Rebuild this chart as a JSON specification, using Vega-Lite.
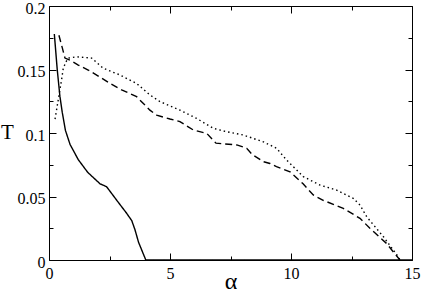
{
  "$schema": "https://vega.github.io/schema/vega-lite/v6.json",
  "width": 363,
  "height": 254,
  "autosize": {"type": "none"},
  "padding": {"left": 49, "top": 6, "right": 9, "bottom": 32},
  "background": "white",
  "config": {
    "view": {"stroke": null},
    "axis": {
      "grid": false,
      "labelFont": "Liberation Serif",
      "labelFontSize": 16,
      "labelColor": "black",
      "titleFont": "Liberation Serif",
      "titleColor": "black",
      "titleFontWeight": "normal",
      "domainColor": "black",
      "domainWidth": 1,
      "tickColor": "black",
      "tickWidth": 1,
      "labelFlush": false,
      "labelOverlap": false
    }
  },
  "data": {
    "values": [
      {"a": 0.22, "T": 0.178, "s": "solid"},
      {"a": 0.34, "T": 0.15, "s": "solid"},
      {"a": 0.45, "T": 0.129, "s": "solid"},
      {"a": 0.55, "T": 0.116, "s": "solid"},
      {"a": 0.68, "T": 0.102, "s": "solid"},
      {"a": 0.87, "T": 0.091, "s": "solid"},
      {"a": 1.21, "T": 0.079, "s": "solid"},
      {"a": 1.6, "T": 0.069, "s": "solid"},
      {"a": 2.11, "T": 0.06, "s": "solid"},
      {"a": 2.38, "T": 0.0577, "s": "solid"},
      {"a": 2.8, "T": 0.047, "s": "solid"},
      {"a": 3.2, "T": 0.037, "s": "solid"},
      {"a": 3.42, "T": 0.031, "s": "solid"},
      {"a": 3.55, "T": 0.024, "s": "solid"},
      {"a": 3.7, "T": 0.014, "s": "solid"},
      {"a": 4.0, "T": 0.0, "s": "solid"},
      {"a": 15.0, "T": 0.0, "s": "solid"},
      {"a": 0.41, "T": 0.177, "s": "dashed"},
      {"a": 0.55, "T": 0.167, "s": "dashed"},
      {"a": 0.66, "T": 0.159, "s": "dashed"},
      {"a": 0.9, "T": 0.157, "s": "dashed"},
      {"a": 1.21, "T": 0.1535, "s": "dashed"},
      {"a": 1.62, "T": 0.1496, "s": "dashed"},
      {"a": 2.11, "T": 0.144, "s": "dashed"},
      {"a": 2.52, "T": 0.139, "s": "dashed"},
      {"a": 3.0, "T": 0.134, "s": "dashed"},
      {"a": 3.62, "T": 0.1286, "s": "dashed"},
      {"a": 4.17, "T": 0.118, "s": "dashed"},
      {"a": 4.45, "T": 0.114, "s": "dashed"},
      {"a": 5.0, "T": 0.111, "s": "dashed"},
      {"a": 5.41, "T": 0.109, "s": "dashed"},
      {"a": 5.96, "T": 0.1024, "s": "dashed"},
      {"a": 6.52, "T": 0.0997, "s": "dashed"},
      {"a": 6.9, "T": 0.092, "s": "dashed"},
      {"a": 7.76, "T": 0.0906, "s": "dashed"},
      {"a": 8.17, "T": 0.088, "s": "dashed"},
      {"a": 8.4, "T": 0.083, "s": "dashed"},
      {"a": 8.86, "T": 0.0774, "s": "dashed"},
      {"a": 9.13, "T": 0.076, "s": "dashed"},
      {"a": 9.4, "T": 0.0735, "s": "dashed"},
      {"a": 9.96, "T": 0.0695, "s": "dashed"},
      {"a": 10.5, "T": 0.06, "s": "dashed"},
      {"a": 10.92, "T": 0.0512, "s": "dashed"},
      {"a": 11.33, "T": 0.047, "s": "dashed"},
      {"a": 12.16, "T": 0.0407, "s": "dashed"},
      {"a": 12.85, "T": 0.0328, "s": "dashed"},
      {"a": 13.26, "T": 0.025, "s": "dashed"},
      {"a": 13.95, "T": 0.013, "s": "dashed"},
      {"a": 14.5, "T": 0.0, "s": "dashed"},
      {"a": 0.25, "T": 0.111, "s": "dotted"},
      {"a": 0.32, "T": 0.119, "s": "dotted"},
      {"a": 0.45, "T": 0.134, "s": "dotted"},
      {"a": 0.52, "T": 0.142, "s": "dotted"},
      {"a": 0.59, "T": 0.151, "s": "dotted"},
      {"a": 0.7, "T": 0.156, "s": "dotted"},
      {"a": 0.8, "T": 0.159, "s": "dotted"},
      {"a": 1.14, "T": 0.16, "s": "dotted"},
      {"a": 1.76, "T": 0.159, "s": "dotted"},
      {"a": 2.24, "T": 0.151, "s": "dotted"},
      {"a": 2.93, "T": 0.1457, "s": "dotted"},
      {"a": 3.62, "T": 0.139, "s": "dotted"},
      {"a": 4.17, "T": 0.13, "s": "dotted"},
      {"a": 4.59, "T": 0.1247, "s": "dotted"},
      {"a": 5.41, "T": 0.118, "s": "dotted"},
      {"a": 6.1, "T": 0.1115, "s": "dotted"},
      {"a": 6.79, "T": 0.1037, "s": "dotted"},
      {"a": 7.34, "T": 0.101, "s": "dotted"},
      {"a": 8.03, "T": 0.0984, "s": "dotted"},
      {"a": 8.86, "T": 0.093, "s": "dotted"},
      {"a": 9.4, "T": 0.088, "s": "dotted"},
      {"a": 9.82, "T": 0.0787, "s": "dotted"},
      {"a": 10.51, "T": 0.0656, "s": "dotted"},
      {"a": 11.2, "T": 0.059, "s": "dotted"},
      {"a": 11.89, "T": 0.055, "s": "dotted"},
      {"a": 12.57, "T": 0.0486, "s": "dotted"},
      {"a": 12.85, "T": 0.0433, "s": "dotted"},
      {"a": 13.13, "T": 0.034, "s": "dotted"},
      {"a": 13.82, "T": 0.0183, "s": "dotted"},
      {"a": 14.43, "T": 0.0026, "s": "dotted"},
      {"a": 14.5, "T": 0.0, "s": "dotted"}
    ]
  },
  "resolve": {"axis": {"x": "independent", "y": "independent"}},
  "layer": [
    {
      "mark": {"type": "line", "color": "black", "strokeWidth": 1.4, "clip": true},
      "encoding": {
        "x": {
          "field": "a", "type": "quantitative",
          "scale": {"domain": [0, 15], "nice": false, "zero": false},
          "axis": {
            "orient": "bottom", "values": [0, 5, 10, 15], "tickSize": -7,
            "labelPadding": 12, "format": "~g",
            "labelFont": "Liberation Serif", "titleFont": "Liberation Serif",
            "title": "α", "titleFontSize": 24, "titleBaseline": "alphabetic",
            "titleY": 28, "titleAlign": "center"
          }
        },
        "y": {
          "field": "T", "type": "quantitative",
          "scale": {"domain": [0, 0.2], "nice": false, "zero": false},
          "axis": {
            "orient": "left", "values": [0, 0.05, 0.1, 0.15, 0.2], "tickSize": -7,
            "labelPadding": 11, "format": "~g", "labelOffset": 2,
            "labelFont": "Liberation Serif", "titleFont": "Liberation Serif",
            "title": "T", "titleAngle": 0, "titleFontSize": 21,
            "titleX": -42, "titleY": 126, "titleAlign": "center", "titleBaseline": "middle"
          }
        },
        "strokeDash": {
          "field": "s", "type": "nominal",
          "scale": {"domain": ["solid", "dashed", "dotted"], "range": [[1, 0], [7, 4], [1.5, 3]]},
          "legend": null
        }
      }
    },
    {
      "mark": {"type": "point", "opacity": 0},
      "encoding": {
        "x": {"field": "a", "type": "quantitative",
          "axis": {"orient": "bottom", "values": [2.5, 7.5, 12.5], "tickSize": -4, "labels": false, "domain": false, "title": null}},
        "y": {"field": "T", "type": "quantitative",
          "axis": {"orient": "left", "values": [0.025, 0.075, 0.125, 0.175], "tickSize": -4, "labels": false, "domain": false, "title": null}}
      }
    },
    {
      "mark": {"type": "point", "opacity": 0},
      "encoding": {
        "x": {"field": "a", "type": "quantitative",
          "axis": {"orient": "top", "values": [0, 5, 10, 15], "tickSize": -7, "labels": false, "title": null}},
        "y": {"field": "T", "type": "quantitative",
          "axis": {"orient": "right", "values": [0, 0.05, 0.1, 0.15, 0.2], "tickSize": -7, "labels": false, "title": null}}
      }
    },
    {
      "mark": {"type": "point", "opacity": 0},
      "encoding": {
        "x": {"field": "a", "type": "quantitative",
          "axis": {"orient": "top", "values": [2.5, 7.5, 12.5], "tickSize": -4, "labels": false, "domain": false, "title": null}},
        "y": {"field": "T", "type": "quantitative",
          "axis": {"orient": "right", "values": [0.025, 0.075, 0.125, 0.175], "tickSize": -4, "labels": false, "domain": false, "title": null}}
      }
    }
  ]
}
